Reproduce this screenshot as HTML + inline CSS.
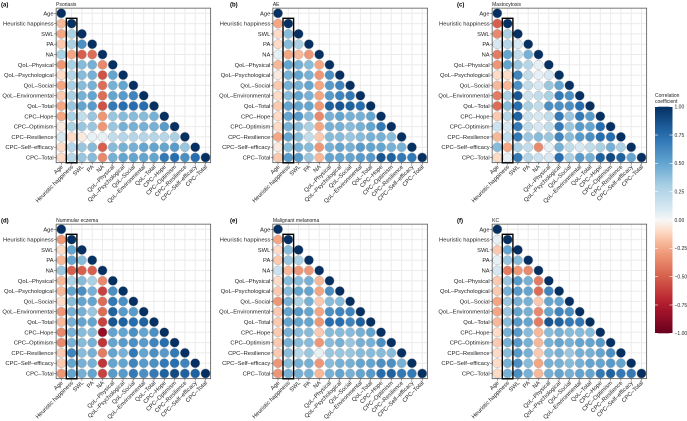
<!DOCTYPE html>
<html><head><meta charset="utf-8"><style>
html,body{margin:0;padding:0;background:#fff;}
svg{display:block;font-family:"Liberation Sans",sans-serif;}
</style></head><body>
<svg id="fig" width="687" height="421" viewBox="0 0 687 421"></svg>
<script>
const variables = ["Age","Heuristic happiness","SWL","PA","NA","QoL\u2013Physical","QoL\u2013Psychological","QoL\u2013Social","QoL\u2013Environmental","QoL\u2013Total","CPC\u2013Hope","CPC\u2013Optimism","CPC\u2013Resilience","CPC\u2013Self\u2013efficacy","CPC\u2013Total"];
const panelTitles = ["Psoriasis","AE","Mastocytosis","Nummular eczema","Malignant melanoma","KC"];
const panelLetters = ["(a)","(b)","(c)","(d)","(e)","(f)"];
const colorbarTicks = [1,0.75,0.5,0.25,0,-0.25,-0.5,-0.75,-1];
const corrPsoriasis = [
[-0.2],[-0.25,0.3],[-0.15,0.3,0.6],[0.3,-0.25,-0.5,-0.45],[-0.3,0.3,0.4,0.45,-0.35],
[-0.1,0.25,0.4,0.45,-0.55,0.5],[-0.25,0.3,0.4,0.45,-0.45,0.45,0.5],[-0.15,0.3,0.45,0.5,-0.45,0.5,0.55,0.65],
[-0.25,0.35,0.5,0.55,-0.55,0.7,0.75,0.75,0.75],[-0.25,0.3,0.2,0.35,-0.3,0.35,0.4,0.4,0.4,0.45],
[-0.05,0.3,0.35,0.35,-0.3,0.35,0.45,0.45,0.45,0.45,0.55],[0.1,-0.1,-0.05,0.05,0.05,0.2,0.25,0.25,0.25,0.25,0.25,0.3],
[-0.1,0.25,0.35,0.4,-0.5,0.4,0.45,0.45,0.5,0.5,0.5,0.55,0.35],[-0.1,0.25,0.35,0.4,-0.35,0.45,0.5,0.5,0.5,0.5,0.7,0.75,0.6,0.75]];
const corrAE = [
[-0.25],[-0.1,0.4],[-0.1,0.4,0.3],[0.05,-0.25,-0.2,-0.3],[-0.2,0.5,0.45,0.4,-0.25],
[-0.05,0.45,0.5,0.45,-0.3,0.6],[-0.15,0.45,0.45,0.5,-0.25,0.55,0.65],[-0.1,0.4,0.5,0.45,-0.25,0.55,0.65,0.7],
[-0.15,0.5,0.5,0.5,-0.3,0.8,0.85,0.8,0.75],[-0.1,0.5,0.55,0.4,-0.35,0.45,0.5,0.45,0.45,0.5],
[-0.1,0.45,0.4,0.3,-0.25,0.45,0.45,0.4,0.45,0.5,0.7],[-0.25,0.5,0.4,0.2,-0.15,0.4,0.4,0.35,0.4,0.45,0.45,0.4],
[-0.05,0.4,0.45,0.4,-0.3,0.45,0.5,0.45,0.55,0.5,0.5,0.45,0.45],[-0.15,0.55,0.55,0.35,-0.2,0.5,0.5,0.5,0.55,0.55,0.85,0.8,0.7,0.7]];
const corrMastocytosis = [
[-0.5],[-0.35,0.3],[0.1,0.25,0.1],[-0.4,0.5,0.2,0.45],[-0.3,0.5,0.35,0.25,0.05],
[-0.1,-0.1,0.65,0.2,0.05,0.1],[-0.2,-0.2,0.6,0.2,0.1,0.35,0.5],[-0.4,0.3,0.85,0.15,0.2,0.3,0.7,0.6],
[-0.45,0.4,0.75,0.3,0.2,0.6,0.6,0.6,0.75],[-0.15,0.25,0.8,0.15,0.1,0.2,0.7,0.35,0.7,0.55],
[0.15,0.1,0.7,0.2,0.1,0.2,0.7,0.35,0.55,0.5,0.75],[-0.2,0.2,0.7,0.35,0.4,0.35,0.65,0.4,0.55,0.6,0.75,0.75],
[0.4,-0.25,0.3,0.2,-0.35,0.05,0.45,0.2,0.1,0.2,0.3,0.45,0.3],[-0.1,0.05,0.7,0.25,0.15,0.1,0.75,0.3,0.55,0.45,0.8,0.9,0.8,0.5]];
const corrNummular = [
[-0.3],[-0.1,0.5],[-0.2,0.5,0.4],[0.35,-0.5,-0.5,-0.5],[-0.2,0.3,0.4,0.3,-0.35],
[-0.2,0.5,0.6,0.45,-0.6,0.6],[-0.1,0.4,0.5,0.5,-0.45,0.7,0.6],[-0.3,0.45,0.45,0.35,-0.45,0.8,0.55,0.55],
[-0.2,0.45,0.5,0.5,-0.6,0.85,0.8,0.75,0.8],[-0.35,0.45,0.4,0.4,-0.85,0.5,0.5,0.6,0.5,0.6],
[-0.35,0.45,0.4,0.45,-0.65,0.5,0.55,0.6,0.55,0.65,0.75],[-0.15,0.65,0.4,0.45,-0.4,0.5,0.45,0.7,0.5,0.6,0.55,0.7],
[-0.15,0.5,0.45,0.45,-0.65,0.5,0.5,0.65,0.55,0.6,0.7,0.75,0.65],[-0.3,0.5,0.45,0.5,-0.6,0.55,0.55,0.7,0.6,0.7,0.8,0.9,0.8,0.8]];
const corrMelanoma = [
[-0.25],[-0.1,0.4],[-0.15,0.35,0.3],[0.15,-0.2,-0.3,-0.3],[-0.1,0.4,0.4,0.45,-0.2],
[-0.15,0.4,0.5,0.5,-0.25,0.6],[-0.3,0.45,0.3,0.45,-0.15,0.4,0.4],[-0.15,0.5,0.55,0.5,-0.25,0.6,0.65,0.65],
[-0.15,0.5,0.5,0.5,-0.3,0.75,0.75,0.65,0.8],[-0.15,0.45,0.4,0.4,-0.15,0.4,0.4,0.4,0.45,0.5],
[-0.15,0.45,0.4,0.4,-0.3,0.4,0.45,0.35,0.45,0.45,0.6],[-0.15,0.4,0.25,0.35,0.05,0.35,0.35,0.35,0.4,0.4,0.4,0.4],
[-0.3,0.4,0.45,0.45,-0.3,0.4,0.45,0.45,0.5,0.5,0.6,0.6,0.45],[-0.3,0.45,0.45,0.45,-0.2,0.45,0.5,0.45,0.5,0.55,0.75,0.8,0.7,0.7]];
const corrKC = [
[0.05],[-0.15,0.5],[0.05,0.35,0.4],[0.1,-0.4,-0.3,-0.35],[-0.15,0.35,0.55,0.45,-0.4],
[-0.15,0.45,0.55,0.5,-0.45,0.65],[-0.25,0.35,0.45,0.45,-0.15,0.5,0.5],[-0.25,0.35,0.5,0.45,-0.35,0.5,0.65,0.6],
[-0.2,0.4,0.55,0.5,-0.4,0.85,0.8,0.7,0.7],[-0.1,0.45,0.55,0.4,-0.2,0.4,0.45,0.4,0.4,0.4],
[-0.15,0.45,0.55,0.45,-0.2,0.45,0.5,0.45,0.5,0.5,0.55],[-0.1,0.4,0.55,0.45,-0.15,0.4,0.45,0.35,0.45,0.45,0.5,0.6],
[-0.1,0.45,0.6,0.4,-0.25,0.45,0.45,0.4,0.45,0.5,0.5,0.55,0.5],[-0.1,0.45,0.6,0.45,-0.2,0.45,0.5,0.45,0.5,0.5,0.7,0.8,0.7,0.7]];
const panelData = [corrPsoriasis,corrAE,corrMastocytosis,corrNummular,corrMelanoma,corrKC];

const NS="http://www.w3.org/2000/svg";
const svg=document.getElementById('fig');
function mk(tag,attrs,parent){const e=document.createElementNS(NS,tag);for(const k in attrs)e.setAttribute(k,attrs[k]);(parent||svg).appendChild(e);return e;}
const stops=[[-1,[103,0,31]],[-0.75,[178,24,43]],[-0.5,[214,96,77]],[-0.25,[244,165,130]],[-0.1,[253,219,199]],[0,[247,247,247]],[0.1,[215,232,242]],[0.3,[170,208,228]],[0.5,[100,165,208]],[0.75,[38,110,176]],[1,[5,48,97]]];
function color(v){for(let i=0;i<stops.length-1;i++){const a=stops[i],b=stops[i+1];if(v<=b[0]){const t=(v-a[0])/(b[0]-a[0]);const c=a[1].map((x,j)=>Math.round(x+(b[1][j]-x)*t));return `rgb(${c})`;}}return 'rgb(5,48,97)';}
const origins=[[61.3,13.3],[278,13.3],[497.3,13.3],[61.3,229.3],[278,229.3],[497.3,229.3]];
const letterX=[1,230,457];
const step=10.3, N=variables.length;
origins.forEach((o,p)=>{
  const g=mk('g',{});
  
  
  const xs=i=>o[0]+i*step, ys=i=>o[1]+i*step;
  const L=xs(0)-step/2, T=ys(0)-step/2, W=step*N, H=step*N;
  mk('rect',{x:L,y:T,width:W,height:H,fill:'#fff'},g);
  for(let i=0;i<N;i++){
    mk('line',{x1:xs(i),x2:xs(i),y1:T,y2:T+H,stroke:'#ebebeb','stroke-width':1},g);
    mk('line',{x1:L,x2:L+W,y1:ys(i),y2:ys(i),stroke:'#ebebeb','stroke-width':1},g);
  }
  const data=panelData[p];
  for(let r=0;r<N;r++){
    for(let c=0;c<=r;c++){
      const v = c===r?1:data[r-1][c];
      const ci=mk('circle',{cx:xs(c),cy:ys(r),r:4.7,fill:color(v),stroke:'#b8b8b8','stroke-width':0.5},g);
      
      
    }
  }
  mk('rect',{x:L,y:T,width:W,height:H,fill:'none',stroke:'#555','stroke-width':0.8},g);
  const hb=mk('rect',{x:xs(1)-5.3,y:ys(1)-5.3,width:10.6,height:ys(N-1)-ys(1)+10.6,fill:'none',stroke:'#000','stroke-width':1.4},g);
  
  
  for(let i=0;i<N;i++){
    mk('line',{x1:L-2,x2:L,y1:ys(i),y2:ys(i),stroke:'#333','stroke-width':0.5},g);
    const t=mk('text',{x:L-2.5,y:ys(i)+2,'font-size':5.8,'text-anchor':'end',fill:'#222'},g);
    t.textContent=variables[i];
    
    
    mk('line',{x1:xs(i),x2:xs(i),y1:T+H,y2:T+H+2,stroke:'#333','stroke-width':0.5},g);
    const tx=mk('text',{x:0,y:0,'font-size':5.8,'text-anchor':'end',fill:'#222',transform:`translate(${xs(i)+2},${T+H+4.5}) rotate(-45)`},g);
    tx.textContent=variables[i];
    
    
  }
  const lt=mk('text',{x:letterX[p%3],y:T-1.5,'font-size':6,'font-weight':'bold',fill:'#000'},g);
  lt.textContent=panelLetters[p];
  
  
  const tt=mk('text',{x:L,y:T-2,'font-size':5,fill:'#222'},g);
  tt.textContent=panelTitles[p];
  
  
});
const cb=mk('g',{});


const defs=mk('defs',{});
const lg=mk('linearGradient',{id:'cbg',x1:0,y1:0,x2:0,y2:1},defs);
for(let i=0;i<=20;i++){const v=1-i/10;mk('stop',{offset:(i/20),'stop-color':color(v)},lg);}
const cbT=106.7,cbB=333.3,cbX=655,cbW=17.5;
mk('rect',{x:cbX,y:cbT,width:cbW,height:cbB-cbT,fill:'url(#cbg)'},cb);
const ct1=mk('text',{x:cbX,y:97,'font-size':5,fill:'#222'},cb);ct1.textContent='Correlation';
const ct2=mk('text',{x:cbX,y:103,'font-size':5,fill:'#222'},cb);ct2.textContent='coefficient';
const cy=v=>cbT+(1-v)/2*(cbB-cbT);
colorbarTicks.forEach(v=>{
  mk('line',{x1:cbX,x2:cbX+3,y1:cy(v),y2:cy(v),stroke:'#fff','stroke-width':0.6},cb);
  mk('line',{x1:cbX+cbW-3,x2:cbX+cbW,y1:cy(v),y2:cy(v),stroke:'#fff','stroke-width':0.6},cb);
  const t=mk('text',{x:cbX+cbW+2,y:cy(v)+1.8,'font-size':5,fill:'#222'},cb);
  t.textContent=v.toFixed(2).replace('-','\u2212');
  
  
});
</script>
</body></html>
